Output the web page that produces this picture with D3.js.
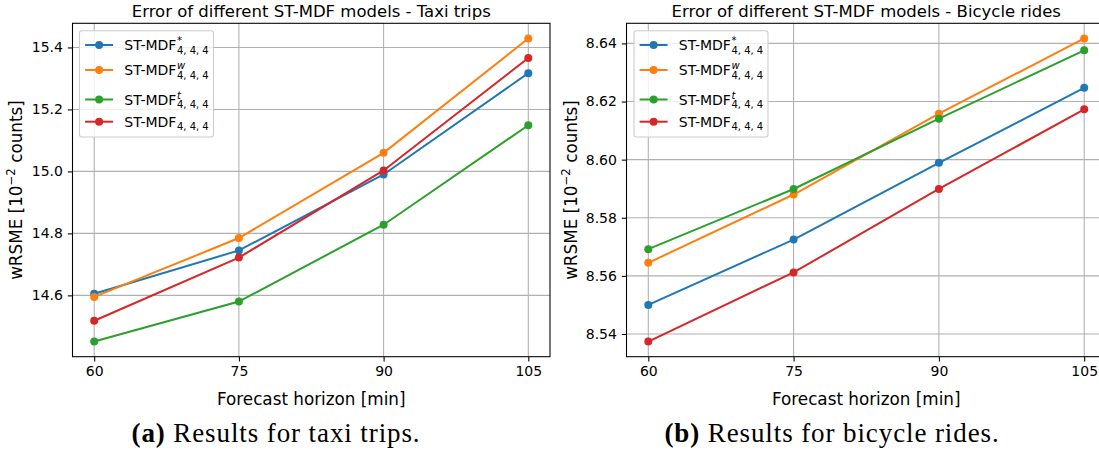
<!DOCTYPE html>
<html>
<head>
<meta charset="utf-8">
<script src="https://cdn.jsdelivr.net/npm/d3@7"></script>
<style>
  body { margin: 0; background: #fff; }
  svg { display: block; }
  text { font-family: "DejaVu Sans", sans-serif; fill: #000; }
</style>
</head>
<body>
<svg id="fig" width="1099" height="450"></svg>
<script>
// Forecast horizons (minutes) shared by both panels
const horizons = [60, 75, 90, 105];
const xTicks = [60, 75, 90, 105];

// Model variants: superscript on ST-MDF, and line colours
const variantSup = ["*", "w", "t", ""];
const variantColors = ["#1f77b4", "#ff7f0e", "#2ca02c", "#d62728"];

// wRSME [10^-2 counts] — taxi trips
const taxiStar = [14.605, 14.745, 14.990, 15.317];
const taxiW    = [14.595, 14.785, 15.060, 15.429];
const taxiT    = [14.451, 14.580, 14.828, 15.149];
const taxiBase = [14.518, 14.722, 15.003, 15.366];
const taxiTicks = [14.6, 14.8, 15.0, 15.2, 15.4];

// wRSME [10^-2 counts] — bicycle rides
const bikeStar = [8.5500, 8.5725, 8.5989, 8.6247];
const bikeW    = [8.5645, 8.5880, 8.6158, 8.6417];
const bikeT    = [8.5692, 8.5899, 8.6141, 8.6376];
const bikeBase = [8.5374, 8.5612, 8.5899, 8.6173];
const bikeTicks = [8.54, 8.56, 8.58, 8.60, 8.62, 8.64];

const panels = [
  { title: "Error of different ST-MDF models - Taxi trips",
    series: [taxiStar, taxiW, taxiT, taxiBase], yTicks: taxiTicks, fmt: d3.format(".1f"),
    left: 72.5, right: 550, ylabelX: 22, legendX: 79.5,
    tag: "(a)", caption: " Results for taxi trips.", captionX: 276 },
  { title: "Error of different ST-MDF models - Bicycle rides",
    series: [bikeStar, bikeW, bikeT, bikeBase], yTicks: bikeTicks, fmt: d3.format(".2f"),
    left: 626.5, right: 1106, ylabelX: 577, legendX: 634,
    tag: "(b)", caption: " Results for bicycle rides.", captionX: 832 }
];

const svg = d3.select("#fig");
const plotTop = 23.3, plotBottom = 356.7;
const lw = 1.07, tickLen = 4.7;
const labelSize = 16.8, titleSize = 16.5, tickSize = 14;

panels.forEach(p => {
  const g = svg.append("g");

  // matplotlib-style 5% margins
  const xs = d3.extent(horizons), xPad = (xs[1] - xs[0]) * 0.05;
  const x = d3.scaleLinear().domain([xs[0] - xPad, xs[1] + xPad]).range([p.left, p.right]);
  const all = p.series.flat();
  const ys = d3.extent(all), yPad = (ys[1] - ys[0]) * 0.05;
  const y = d3.scaleLinear().domain([ys[0] - yPad, ys[1] + yPad]).range([plotBottom, plotTop]);

  // grid
  g.append("g").selectAll("line").data(xTicks).join("line")
    .attr("x1", d => x(d)).attr("x2", d => x(d)).attr("y1", plotTop).attr("y2", plotBottom)
    .attr("stroke", "#b0b0b0").attr("stroke-width", lw);
  g.append("g").selectAll("line").data(p.yTicks).join("line")
    .attr("y1", d => y(d)).attr("y2", d => y(d)).attr("x1", p.left).attr("x2", p.right)
    .attr("stroke", "#b0b0b0").attr("stroke-width", lw);

  // series lines and markers
  const line = d3.line().x((d, i) => x(horizons[i])).y(d => y(d));
  p.series.forEach((vals, k) => {
    g.append("path").datum(vals).attr("d", line)
      .attr("fill", "none").attr("stroke", variantColors[k]).attr("stroke-width", 2);
    g.append("g").selectAll("circle").data(vals).join("circle")
      .attr("cx", (d, i) => x(horizons[i])).attr("cy", d => y(d)).attr("r", 4)
      .attr("fill", variantColors[k]);
  });

  // axes (spines, ticks, labels)
  const xAxis = d3.axisBottom(x).tickValues(xTicks).tickSize(tickLen).tickPadding(4.9).tickFormat(d3.format("d"));
  const yAxis = d3.axisLeft(y).tickValues(p.yTicks).tickSize(tickLen).tickPadding(4.9).tickFormat(p.fmt);
  const gx = g.append("g").attr("transform", `translate(0,${plotBottom})`).call(xAxis);
  const gy = g.append("g").attr("transform", `translate(${p.left},0)`).call(yAxis);
  [gx, gy].forEach(a => {
    a.select(".domain").remove();
    a.selectAll(".tick line").attr("stroke", "#000").attr("stroke-width", lw);
    a.selectAll(".tick text").attr("font-family", "DejaVu Sans").attr("font-size", tickSize).attr("fill", "#000");
  });
  g.append("rect").attr("x", p.left).attr("y", plotTop)
    .attr("width", p.right - p.left).attr("height", plotBottom - plotTop)
    .attr("fill", "none").attr("stroke", "#000").attr("stroke-width", lw);

  // title
  g.append("text").attr("x", (p.left + p.right) / 2).attr("y", 17)
    .attr("text-anchor", "middle").attr("font-size", titleSize).text(p.title);

  // x label
  g.append("text").attr("x", (p.left + p.right) / 2).attr("y", 405)
    .attr("text-anchor", "middle").attr("font-size", labelSize).text("Forecast horizon [min]");

  // y label with superscript
  const yl = g.append("text")
    .attr("transform", `translate(${p.ylabelX},${(plotTop + plotBottom) / 2}) rotate(-90)`)
    .attr("text-anchor", "middle").attr("font-size", labelSize);
  yl.append("tspan").text("wRSME [10");
  yl.append("tspan").attr("font-size", 11.8).attr("dy", -7).text("\u22122");
  yl.append("tspan").attr("dy", 7).text(" counts]");

  // legend
  const lg = g.append("g");
  const entryY = [45, 70, 99.5, 121.7];
  lg.append("rect").attr("x", p.legendX).attr("y", 30.7).attr("width", 134).attr("height", 106.3)
    .attr("rx", 2.5).attr("fill", "#fff").attr("fill-opacity", 0.8)
    .attr("stroke", "#cccccc").attr("stroke-width", lw);
  variantSup.forEach((sup, k) => {
    const cy = entryY[k];
    const hx = p.legendX + 5.6;
    lg.append("line").attr("x1", hx).attr("x2", hx + 28).attr("y1", cy).attr("y2", cy)
      .attr("stroke", variantColors[k]).attr("stroke-width", 2);
    lg.append("circle").attr("cx", hx + 14).attr("cy", cy).attr("r", 4).attr("fill", variantColors[k]);
    const tx = hx + 28 + 11.2, base = cy + 5;
    const main = lg.append("text").attr("x", tx).attr("y", base).attr("font-size", 14).text("ST-MDF");
    const w = main.node().getComputedTextLength();
    if (sup) {
      lg.append("text").attr("x", tx + w + 0.5).attr("y", base - 6).attr("font-size", 10)
        .attr("font-style", sup === "*" ? "normal" : "italic").text(sup);
    }
    lg.append("text").attr("x", tx + w + 0.5).attr("y", base + 3.5).attr("font-size", 10).text("4, 4, 4");
  });

  // sub-figure caption
  const cap = svg.append("text").attr("x", p.captionX).attr("y", 442)
    .attr("text-anchor", "middle").attr("font-size", 27).attr("letter-spacing", 0.9)
    .style("font-family", "'Liberation Serif', serif");
  cap.append("tspan").attr("font-weight", "bold").text(p.tag);
  cap.append("tspan").text(p.caption);
});
</script>
</body>
</html>
